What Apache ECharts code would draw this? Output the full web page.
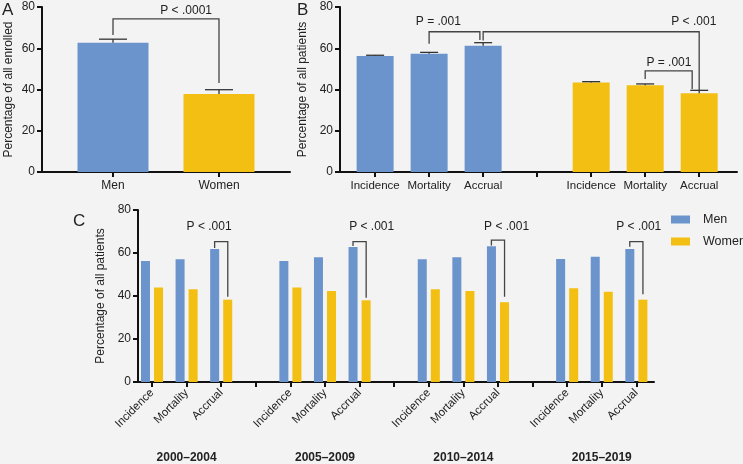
<!DOCTYPE html>
<html><head><meta charset="utf-8">
<script src="https://cdn.jsdelivr.net/npm/echarts@6/dist/echarts.min.js"></script>
<style>html,body{margin:0;padding:0;background:#f3f3f3}#c{width:743px;height:464px}</style>
</head><body><div id="c"></div>
<script>
// ---------- Panel A ----------
const groupsA = ['Men', 'Women'];
const pctA = [62.7, 37.8];
const upperA = [64.4, 39.9];
// ---------- Panel B ----------
const measuresB = ['Incidence', 'Mortality', 'Accrual'];
const menB = [56.3, 57.3, 61.2];
const menUpperB = [56.6, 58.0, 62.7];
const womenB = [43.4, 42.1, 38.2];
const womenUpperB = [43.8, 42.7, 39.6];
// ---------- Panel C ----------
const periodsC = ['2000–2004', '2005–2009', '2010–2014', '2015–2019'];
const measuresC = ['Incidence', 'Mortality', 'Accrual'];
const menC = [
  [56.3, 57.1, 61.9],
  [56.3, 58.0, 62.8],
  [57.1, 58.0, 63.1],
  [57.2, 58.3, 61.9]
];
const womenC = [
  [43.9, 43.1, 38.3],
  [43.9, 42.3, 38.0],
  [43.1, 42.3, 37.1],
  [43.6, 42.0, 38.3]
];
const yTicks = [0, 20, 40, 60, 80];
// significance brackets: [xLeft, xRight, yTop, yLeftEnd, yRightEnd]
const bracketsA = [[1, 2, 74.2, 66.4, 43.2]];
const bracketsB = [[2, 2.94, 68.0, 62.2, 64.0], [3.0, 7, 68.0, 63.7, 39.8], [6, 6.87, 49.0, 45.1, 40.2]];
const bracketsC = [[2.81, 3.19, 65.3, 62.3, 39.7], [6.81, 7.19, 65.3, 63.2, 39.2], [10.81, 11.19, 66.0, 63.5, 39.7], [14.81, 15.19, 65.3, 62.9, 40.8]];
// p-value labels: [x, y, text]
const pLabelsA = [[1.69, 78, 'P < .0001']];
const pLabelsB = [[2.17, 72.9, 'P = .001'], [6.9, 72.9, 'P < .001'], [6.44, 52.8, 'P = .001']];
const pLabelsC = [[2.65, 72.2, 'P < .001'], [7.35, 72.2, 'P < .001'], [11.25, 72.2, 'P < .001'], [15.07, 72.2, 'P < .001']];

const BLUE = '#6a94cb', GOLD = '#f2bf12', INK = '#222';
const FONT = '"Liberation Sans", Arial, sans-serif';

// slot helpers
const slotA = i => i + 1;
const slotB = (g, m) => g * 4 + m + 1;
const slotC = (p, m) => p * 4 + m + 1;

function bracketItem(params, api) {
  const x1 = api.value(0), x2 = api.value(1), top = api.value(2), e1 = api.value(3), e2 = api.value(4);
  const pts = [api.coord([x1, e1]), api.coord([x1, top]), api.coord([x2, top]), api.coord([x2, e2])];
  return {type: 'polyline', shape: {points: pts}, style: {stroke: '#444', lineWidth: 1.3, fill: null}};
}
function errItem(capW) {
  return function (params, api) {
    const x = api.value(0), v = api.value(1), u = api.value(2);
    const p0 = api.coord([x, v]), p1 = api.coord([x, u]);
    return {type: 'group', children: [
      {type: 'line', shape: {x1: p0[0], y1: p0[1], x2: p1[0], y2: p1[1]}, style: {stroke: '#333', lineWidth: 1.3}},
      {type: 'line', shape: {x1: p1[0] - capW / 2, y1: p1[1], x2: p1[0] + capW / 2, y2: p1[1]}, style: {stroke: '#333', lineWidth: 1.3}}
    ]};
  };
}
function textItem(list) {
  return function (params, api) {
    const p = api.coord([api.value(0), api.value(1)]);
    return {type: 'text', x: p[0], y: p[1], style: {text: list[params.dataIndex][2], align: 'center', verticalAlign: 'middle', fill: INK, font: '12px ' + FONT}};
  };
}

function yAx(grid, name, gap) {
  return {type: 'value', gridIndex: grid, min: 0, max: 80, interval: 20,
    name: name, nameLocation: 'middle', nameGap: gap, nameTextStyle: {fontSize: 12, color: INK, fontFamily: FONT},
    axisLine: {show: true, lineStyle: {color: '#111', width: 2}},
    axisTick: {show: true, length: 5, lineStyle: {color: '#111', width: 2}},
    axisLabel: {color: INK, fontSize: 12, margin: 7, fontFamily: FONT},
    splitLine: {show: false}};
}
function xAx(grid, min, max, ticks, labels, fmt, extra) {
  return Object.assign({type: 'value', gridIndex: grid, min: min, max: max,
    axisLine: {show: true, onZero: false, lineStyle: {color: '#111', width: 2}},
    axisTick: {show: true, length: 5, lineStyle: {color: '#111', width: 2}, customValues: ticks},
    axisLabel: {color: INK, fontSize: 12, margin: 8, fontFamily: FONT, customValues: labels, formatter: fmt},
    splitLine: {show: false}}, extra || {});
}

const labelB = {}; [0, 1].forEach(g => measuresB.forEach((m, j) => labelB[slotB(g, j)] = m));
const labelC = {}; periodsC.forEach((p, i) => measuresC.forEach((m, j) => labelC[slotC(i, j)] = m));
const periodPos = {}; periodsC.forEach((p, i) => periodPos[slotC(i, 1)] = p);

const ticksB = [1, 2, 3, 4, 5, 6, 7];
const ticksC = []; for (let i = 1; i <= 15; i++) ticksC.push(i);

const xAxes = [
  xAx(0, 0.33, 2.67, [1, 2], [1, 2], v => groupsA[Math.round(v) - 1]),
  xAx(1, 0.35, 7.7, ticksB, Object.keys(labelB).map(Number), v => labelB[Math.round(v)]),
  xAx(2, 0.595, 15.51, ticksC, Object.keys(labelC).map(Number), v => labelC[Math.round(v)], {}),
  {type: 'value', gridIndex: 2, min: 0.595, max: 15.51, position: 'bottom', offset: 70,
    axisLine: {show: false}, axisTick: {show: false}, splitLine: {show: false},
    axisLabel: {color: INK, fontSize: 12, fontWeight: 'bold', margin: 0, fontFamily: FONT,
      customValues: Object.keys(periodPos).map(Number), formatter: v => periodPos[Math.round(v)]}}
];
xAxes[2].axisLabel.rotate = 45;
xAxes[2].axisLabel.fontSize = 11.5;
xAxes[2].axisLabel.margin = 9;
xAxes[1].axisLabel.fontSize = 11.5;

const series = [
  {type: 'bar', name: 'Men', xAxisIndex: 0, yAxisIndex: 0, barWidth: 71, barGap: '-100%', itemStyle: {color: BLUE},
    data: [[slotA(0), pctA[0]]]},
  {type: 'bar', name: 'Women', xAxisIndex: 0, yAxisIndex: 0, barWidth: 71, barGap: '-100%', itemStyle: {color: GOLD},
    data: [[slotA(1), pctA[1]]]},
  {type: 'custom', xAxisIndex: 0, yAxisIndex: 0, z: 5, renderItem: errItem(28), encode: {x: 0, y: [1, 2]},
    data: pctA.map((v, i) => [slotA(i), v, upperA[i]])},
  {type: 'custom', xAxisIndex: 0, yAxisIndex: 0, z: 6, renderItem: bracketItem, encode: {x: [0, 1], y: [2, 3, 4]}, data: bracketsA},
  {type: 'custom', xAxisIndex: 0, yAxisIndex: 0, z: 6, renderItem: textItem(pLabelsA), encode: {x: 0, y: 1}, data: pLabelsA.map(d => [d[0], d[1]])},

  {type: 'bar', name: 'Men', xAxisIndex: 1, yAxisIndex: 1, barWidth: 37, barGap: '-100%', itemStyle: {color: BLUE},
    data: menB.map((v, j) => [slotB(0, j), v])},
  {type: 'bar', name: 'Women', xAxisIndex: 1, yAxisIndex: 1, barWidth: 37, barGap: '-100%', itemStyle: {color: GOLD},
    data: womenB.map((v, j) => [slotB(1, j), v])},
  {type: 'custom', xAxisIndex: 1, yAxisIndex: 1, z: 5, renderItem: errItem(18), encode: {x: 0, y: [1, 2]},
    data: menB.map((v, j) => [slotB(0, j), v, menUpperB[j]]).concat(womenB.map((v, j) => [slotB(1, j), v, womenUpperB[j]]))},
  {type: 'custom', xAxisIndex: 1, yAxisIndex: 1, z: 6, renderItem: bracketItem, encode: {x: [0, 1], y: [2, 3, 4]}, data: bracketsB},
  {type: 'custom', xAxisIndex: 1, yAxisIndex: 1, z: 6, renderItem: textItem(pLabelsB), encode: {x: 0, y: 1}, data: pLabelsB.map(d => [d[0], d[1]])},

  {type: 'bar', name: 'Men', xAxisIndex: 2, yAxisIndex: 2, barWidth: 9, barGap: '45%', itemStyle: {color: BLUE},
    data: [].concat(...menC.map((row, i) => row.map((v, j) => [slotC(i, j), v])))},
  {type: 'bar', name: 'Women', xAxisIndex: 2, yAxisIndex: 2, barWidth: 9, barGap: '45%', itemStyle: {color: GOLD},
    data: [].concat(...womenC.map((row, i) => row.map((v, j) => [slotC(i, j), v])))},
  {type: 'custom', xAxisIndex: 2, yAxisIndex: 2, z: 6, renderItem: bracketItem, encode: {x: [0, 1], y: [2, 3, 4]}, data: bracketsC},
  {type: 'custom', xAxisIndex: 2, yAxisIndex: 2, z: 6, renderItem: textItem(pLabelsC), encode: {x: 0, y: 1}, data: pLabelsC.map(d => [d[0], d[1]])}
];

const chart = echarts.init(document.getElementById('c'), null, {renderer: 'canvas'});
const letterStyle = {fontSize: 17, fontWeight: 'normal', color: INK, fontFamily: FONT};
chart.setOption({
  backgroundColor: '#f3f3f3',
  animation: false,
  textStyle: {fontFamily: FONT},
  title: [
    {text: 'A', left: 2, top: 2, padding: 0, textStyle: letterStyle},
    {text: 'B', left: 297, top: 2, padding: 0, textStyle: letterStyle},
    {text: 'C', left: 73, top: 213, padding: 0, textStyle: letterStyle}
  ],
  legend: {data: ['Men', 'Women'], orient: 'vertical', left: 671, top: 213, padding: 0, icon: 'rect', itemWidth: 19, itemHeight: 8, itemGap: 9,
    textStyle: {fontSize: 12.5, color: INK, fontFamily: FONT, padding: [0, 0, 0, 8]}},
  grid: [
    {left: 42, top: 7, width: 248, height: 165},
    {left: 340, top: 7, width: 397, height: 165},
    {left: 138, top: 210, width: 516, height: 172}
  ],
  xAxis: xAxes,
  yAxis: [yAx(0, 'Percentage of all enrolled', 27), yAx(1, 'Percentage of all patients', 29), yAx(2, 'Percentage of all patients', 30)],
  series: series
});
</script></body></html>
